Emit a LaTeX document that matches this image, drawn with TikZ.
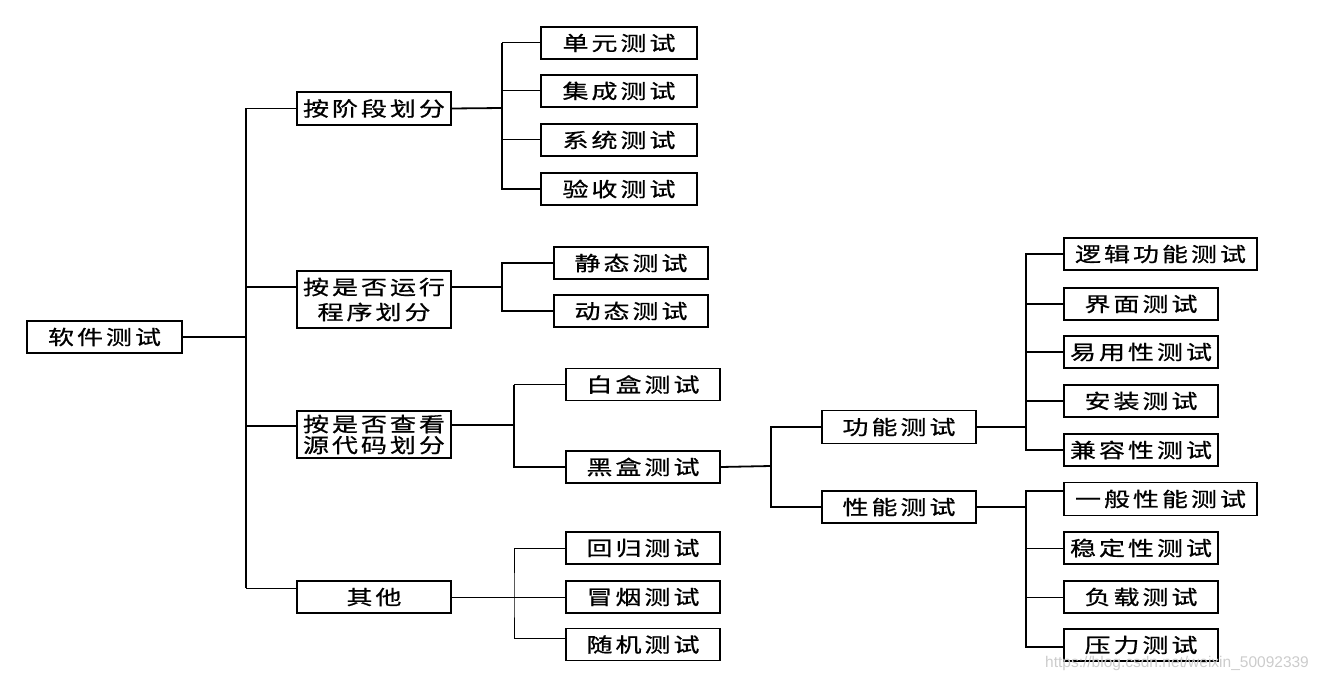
\documentclass[tikz,border=0pt]{standalone}
\usepackage{fontspec}
\usepackage{tikz}
\usetikzlibrary{positioning,calc}
\newfontfamily\cjk[FakeStretch=1.3,LetterSpace=15,FakeBold=0.8]{Noto Sans CJK SC}
\newfontfamily\wmfont{Liberation Sans}

\begin{document}
\begin{tikzpicture}[x=1pt, y=-1pt,
    box/.style={rectangle, draw, line width=1.5pt, minimum width=154pt, minimum height=32pt,
        inner sep=0pt, align=center, font=\cjk\fontsize{20}{25}\selectfont},
    wide/.style={box, minimum width=193pt},
    link/.style={line width=1.8pt},
    slim/.style={line width=1pt}
]
    \useasboundingbox (0,0) rectangle (1328,682);

    \node[box, minimum width=155pt] (root) at (104.5,337) {软件测试};

    \node[box, minimum height=33pt] (stage) at (374,108.5) {按阶段划分};
    \node[box, minimum height=57pt] (run) at (374,299.5) {按是否运行\\程序划分};
    \node[box, minimum height=47pt] (code) at (374,434.5) {按是否查看\\[-4pt]源代码划分};
    \node[box] (other) at (374,597) {其他};

    \node[box, minimum width=156pt] (s1) at (619,43) {单元测试};
    \node[box, minimum width=156pt] (s2) at (619,91) {集成测试};
    \node[box, minimum width=156pt] (s3) at (619,140) {系统测试};
    \node[box, minimum width=156pt] (s4) at (619,189) {验收测试};

    \node[box] (r1) at (631,263) {静态测试};
    \node[box] (r2) at (631,311) {动态测试};

    \node[box] (c1) at (643,384.5) {白盒测试};
    \node[box] (c2) at (643,467) {黑盒测试};

    \node[box] (o1) at (643,548) {回归测试};
    \node[box] (o2) at (643,597) {冒烟测试};
    \node[box] (o3) at (643,644.5) {随机测试};

    \node[box, minimum height=33pt] (f) at (899,427) {功能测试};
    \node[box] (p) at (899,507) {性能测试};

    \node[wide] (f1) at (1160.5,254) {逻辑功能测试};
    \node[box] (f2) at (1141,304) {界面测试};
    \node[box] (f3) at (1141,352) {易用性测试};
    \node[box] (f4) at (1141,401) {安装测试};
    \node[box] (f5) at (1141,450) {兼容性测试};

    \node[wide, minimum height=33pt] (p1) at (1160.5,499) {一般性能测试};
    \node[box] (p2) at (1141,548) {稳定性测试};
    \node[box] (p3) at (1141,597) {负载测试};
    \node[box] (p4) at (1141,645) {压力测试};

    \coordinate (j0) at (246,337);
    \coordinate (j1) at (502,108);
    \coordinate (j2) at (502,287);
    \coordinate (j3) at (514,425);
    \coordinate (j4) at (514,597);
    \coordinate (j5) at (771,466);
    \coordinate (j6) at (1026,427);
    \coordinate (j7) at (1026,507);
    \coordinate (runin) at ([yshift=12.5pt]run.west);
    \coordinate (codein) at ([yshift=8.5pt]code.west);
    \coordinate (otherin) at ([yshift=9pt]other.west);
    \coordinate (o3in) at ([yshift=6.5pt]o3.west);
    \coordinate (p1in) at ([yshift=8pt]p1.west);
    \coordinate (p4in) at ([yshift=-2pt]p4.west);

    \draw[link] (root.east) -- (j0);
    \draw[link] (stage.west) -| (j0) |- (codein);
    \draw[link] (j0) |- (runin);
    \draw[link] (j0) -- (j0 |- otherin);
    \draw[slim] (j0 |- otherin) -- (otherin);

    \draw[link] (stage.east) -- (j1);
    \draw[slim] (s1.west) -| (j1);
    \draw[link] (j1 |- s1.west) -- (j1 |- s4.west) -- (s4.west);
    \foreach \n in {s2,s3}
        \draw[slim] (j1 |- \n.west) -- (\n.west);

    \draw[link] ([yshift=12.5pt]run.east) -- (j2);
    \draw[link] (r1.west) -| (j2) |- (r2.west);

    \draw[link] ([yshift=9.5pt]code.east) -- (j3);
    \draw[slim] (c1.west) -| (j3);
    \draw[link] (j3 |- c1.west) -- (j3 |- c2.west) -- (c2.west);

    \draw[slim] (other.east) -- (j4);
    \draw[slim] (o1.west) -| (j4) |- (o3in);
    \draw[slim] (j4) -- (o2.west);

    \draw[link] (c2.east) -- (j5);
    \draw[link] (f.west) -| (j5) |- (p.west);

    \draw[link] (f.east) -- (j6);
    \draw[link] (f1.west) -| (j6) |- (f5.west);
    \foreach \n in {f2,f3,f4}
        \draw[link] (j6 |- \n.west) -- (\n.west);

    \draw[link] (p.east) -- (j7);
    \draw[link] (p1in) -| (j7) |- (p4in);
    \foreach \n in {p2,p3}
        \draw[slim] (j7 |- \n.west) -- (\n.west);

    \node[font=\wmfont\fontsize{15.5}{16}\selectfont, text=gray!40, anchor=west, inner sep=0pt]
        (mark) at (1045,663) {https://blog.csdn.net/weixin\_50092339};
\end{tikzpicture}
\end{document}
